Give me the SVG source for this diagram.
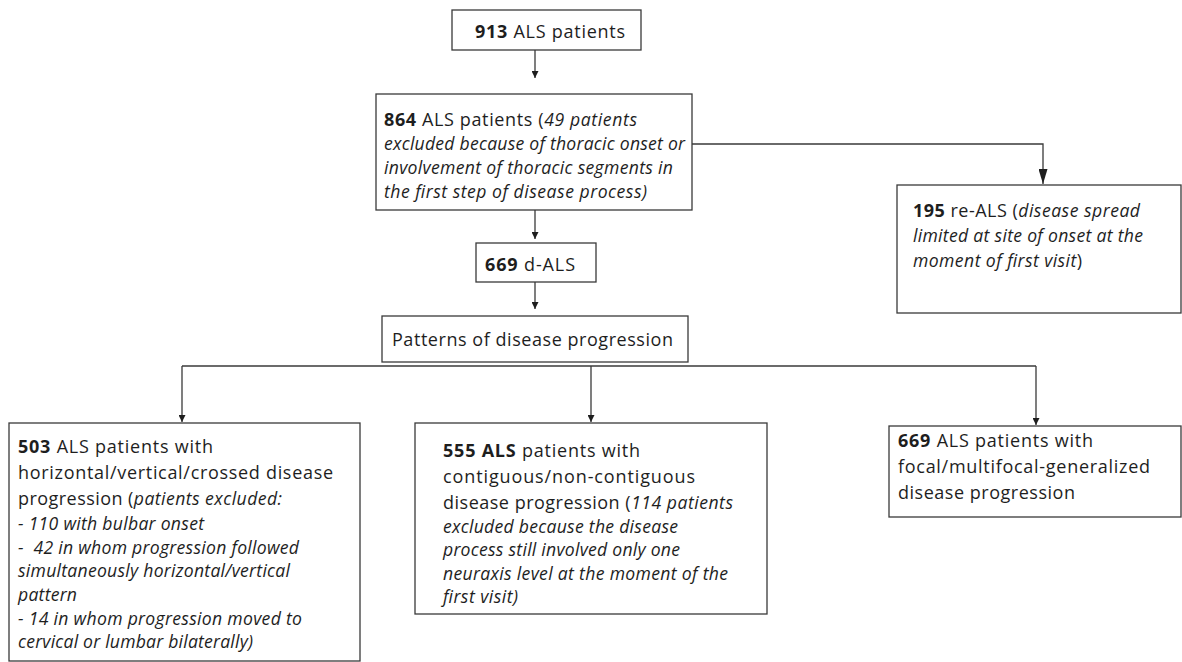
<svg xmlns="http://www.w3.org/2000/svg" width="1182" height="662" viewBox="0 0 1182 662">
<style>
.box{fill:#fff;stroke:#3a3a3a;stroke-width:1.3}
.t{font-family:"Open Sans","Noto Sans","Liberation Sans",sans-serif;font-size:18px;fill:#1e1e1e}
.i{font-style:italic;font-size:17.6px}
.b{font-weight:bold}
.ln{fill:none;stroke:#3a3a3a;stroke-width:1.3}
</style>
<defs>
<marker id="ah" viewBox="0 0 10 10" refX="10" refY="5" markerWidth="7" markerHeight="7" markerUnits="userSpaceOnUse" orient="auto"><path d="M0,0 L10,5 L0,10 z" fill="#1e1e1e"/></marker>
<marker id="ah2" viewBox="0 0 10 10" refX="10" refY="5" markerWidth="15" markerHeight="9" markerUnits="userSpaceOnUse" orient="auto" preserveAspectRatio="none"><path d="M0,0 L10,5 L0,10 z" fill="#1e1e1e"/></marker>
</defs>
<rect width="1182" height="662" fill="#fff"/>
<g id="connectors">
<line class="ln" x1="535" y1="50" x2="535" y2="78" marker-end="url(#ah)"/>
<polyline class="ln" points="692,144 1043,144 1043,184" marker-end="url(#ah2)"/>
<line class="ln" x1="535" y1="210" x2="535" y2="239" marker-end="url(#ah)"/>
<line class="ln" x1="535" y1="282" x2="535" y2="309" marker-end="url(#ah)"/>
<line class="ln" x1="182" y1="366" x2="1036" y2="366"/>
<line class="ln" x1="182" y1="366" x2="182" y2="422" marker-end="url(#ah)"/>
<line class="ln" x1="591" y1="366" x2="591" y2="422" marker-end="url(#ah)"/>
<line class="ln" x1="1036" y1="366" x2="1036" y2="425" marker-end="url(#ah)"/>
</g>
<g id="n913">
<rect class="box" x="452" y="10" width="189" height="40"/>
<text class="t" x="475" y="38" textLength="150"><tspan class="b">913</tspan> ALS patients</text>
</g>
<g id="n864">
<rect class="box" x="376" y="94" width="316" height="116"/>
<text class="t" x="384" y="126" textLength="253"><tspan class="b">864</tspan> ALS patients (<tspan class="i">49 patients</tspan></text>
<text class="t i" x="384" y="150" textLength="301">excluded because of thoracic onset or</text>
<text class="t i" x="384" y="174" textLength="289">involvement of thoracic segments in</text>
<text class="t i" x="384" y="198" textLength="263">the first step of disease process)</text>
</g>
<g id="n195">
<rect class="box" x="897" y="185" width="284" height="128"/>
<text class="t" x="913" y="217" textLength="227"><tspan class="b">195</tspan> re-ALS (<tspan class="i">disease spread</tspan></text>
<text class="t i" x="913" y="242" textLength="230">limited at site of onset at the</text>
<text class="t" x="913" y="267" textLength="169"><tspan class="i">moment of first visit</tspan>)</text>
</g>
<g id="n669d">
<rect class="box" x="476" y="243" width="120" height="39"/>
<text class="t" x="485" y="271" textLength="90"><tspan class="b">669</tspan> d-ALS</text>
</g>
<g id="npatterns">
<rect class="box" x="382" y="316" width="306" height="46"/>
<text class="t" x="392" y="346" textLength="281">Patterns of disease progression</text>
</g>
<g id="n503">
<rect class="box" x="9" y="423" width="351" height="238"/>
<text class="t" x="18" y="453" textLength="195"><tspan class="b">503</tspan> ALS patients with</text>
<text class="t" x="18" y="479" textLength="315">horizontal/vertical/crossed disease</text>
<text class="t" x="18" y="505" textLength="264">progression (<tspan class="i">patients excluded:</tspan></text>
<text class="t i" x="18" y="530" textLength="186">- 110 with bulbar onset</text>
<text class="t i" x="18" y="554" textLength="281" xml:space="preserve">-  42 in whom progression followed</text>
<text class="t i" x="18" y="577" textLength="272">simultaneously horizontal/vertical</text>
<text class="t i" x="18" y="601" textLength="59">pattern</text>
<text class="t i" x="18" y="625" textLength="284">- 14 in whom progression moved to</text>
<text class="t i" x="18" y="648" textLength="235">cervical or lumbar bilaterally)</text>
</g>
<g id="n555">
<rect class="box" x="415" y="423" width="352" height="191"/>
<text class="t" x="443" y="457" textLength="197"><tspan class="b">555 ALS</tspan> patients with</text>
<text class="t" x="443" y="483" textLength="252">contiguous/non-contiguous</text>
<text class="t" x="443" y="509" textLength="290">disease progression (<tspan class="i">114 patients</tspan></text>
<text class="t i" x="443" y="533" textLength="235">excluded because the disease</text>
<text class="t i" x="443" y="556" textLength="237">process still involved only one</text>
<text class="t i" x="443" y="580" textLength="285">neuraxis level at the moment of the</text>
<text class="t i" x="443" y="603" textLength="75">first visit)</text>
</g>
<g id="n669">
<rect class="box" x="889" y="426" width="292" height="91"/>
<text class="t" x="898" y="447" textLength="195"><tspan class="b">669</tspan> ALS patients with</text>
<text class="t" x="898" y="473" textLength="252">focal/multifocal-generalized</text>
<text class="t" x="898" y="499" textLength="177">disease progression</text>
</g>
</svg>
